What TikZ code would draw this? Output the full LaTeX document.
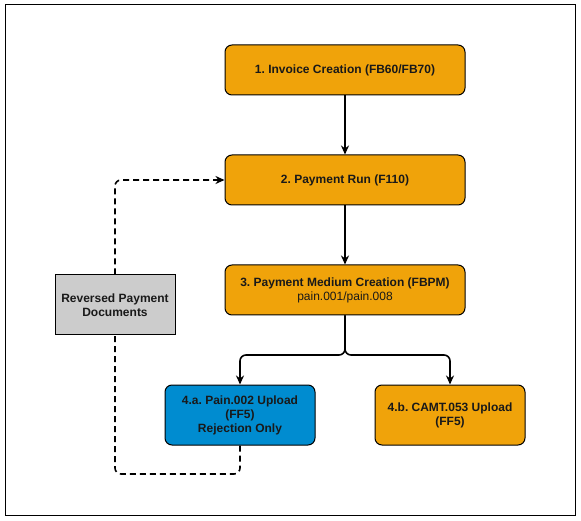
\documentclass[tikz,border=0pt]{standalone}
\usepackage{fontspec}
\setmainfont{Liberation Sans}
\usetikzlibrary{arrows.meta}
\definecolor{boxorange}{HTML}{F0A30A}
\definecolor{boxblue}{HTML}{008CD0}
\definecolor{boxgray}{HTML}{CCCCCC}
\tikzset{
  base/.style={draw=black, line width=1pt, minimum width=240pt, minimum height=50pt, align=center, inner sep=0pt, font=\fontsize{12}{14}\selectfont\bfseries\frenchspacing, text=black!90},
  stepbox/.style={base, fill=boxorange, rounded corners=7pt},
  bluebox/.style={base, fill=boxblue, rounded corners=7pt, minimum width=150pt, minimum height=60pt},
  smallbox/.style={base, fill=boxorange, rounded corners=7pt, minimum width=150pt, minimum height=60pt},
  graybox/.style={base, fill=boxgray, minimum width=120pt, minimum height=60pt},
  flow/.style={line width=1.6pt, -{Stealth[length=9pt,width=8pt]}, rounded corners=6pt},
  back/.style={line width=1.6pt, dash pattern=on 6pt off 4pt, rounded corners=6pt}
}
\begin{document}
\frenchspacing
\begin{tikzpicture}[x=1pt,y=-1pt]
\useasboundingbox (0,0) rectangle (581,521);
\draw[line width=1pt] (5,5) rectangle (575,515);
\node[stepbox] (b1) at (345,70) {1. Invoice Creation (FB60/FB70)};
\node[stepbox] (b2) at (345,180) {2. Payment Run (F110)};
\node[stepbox] (b3) at (345,290) {3. Payment Medium Creation (FBPM)\\{\mdseries pain.001/pain.008}};
\node[bluebox] (b4a) at (240,415) {4.a. Pain.002 Upload\\(FF5)\\Rejection Only};
\node[smallbox] (b4b) at (450,415) {4.b. CAMT.053 Upload\\(FF5)};
\node[graybox] (rev) at (115,305) {Reversed Payment\\Documents};
\coordinate (split) at (345,355);
\draw[flow] (b1) -- (b2);
\draw[flow] (b2) -- (b3);
\draw[flow] (b3.south) -- (split) -| (b4a.north);
\draw[flow] (b3.south) -- (split) -| (b4b.north);
\draw[back] (b4a.south) -- (240,474) -| (rev.south);
\draw[back, -{Stealth[length=9pt,width=8pt]}] (rev.north) |- (b2.west);
\end{tikzpicture}
\end{document}
